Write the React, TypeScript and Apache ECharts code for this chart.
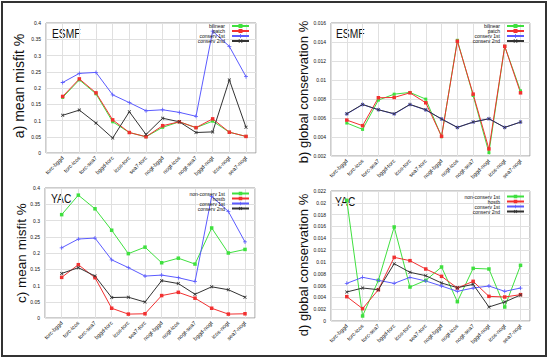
import React, { useEffect, useRef } from 'react';
import * as echarts from 'echarts';

const categories = ['torc-bggd', 'torc-icos', 'torc-sea7', 'bggd-torc', 'icos-torc', 'sea7-torc', 'nogt-bggd', 'nogt-icos', 'nogt-sea7', 'bggd-nogt', 'icos-nogt', 'sea7-nogt'];

// a) ESMF mean misfit %
const aBilinear = [0.171, 0.225, 0.182, 0.096, 0.063, 0.050, 0.079, 0.096, 0.078, 0.098, 0.064, 0.051];
const aPatch = [0.174, 0.228, 0.185, 0.102, 0.063, 0.050, 0.084, 0.096, 0.078, 0.105, 0.064, 0.051];
const aConserv1 = [0.217, 0.245, 0.248, 0.179, 0.155, 0.130, 0.133, 0.125, 0.113, 0.375, 0.328, 0.235];
const aConserv2 = [0.116, 0.132, 0.092, 0.046, 0.127, 0.057, 0.107, 0.096, 0.063, 0.065, 0.225, 0.079];

// b) ESMF global conservation %
const bBilinear = [0.00547, 0.0048, 0.00788, 0.00851, 0.00869, 0.00799, 0.00403, 0.01418, 0.00837, 0.00235, 0.01355, 0.00886];
const bPatch = [0.00578, 0.00519, 0.00813, 0.00816, 0.00865, 0.0076, 0.00407, 0.01408, 0.00851, 0.00274, 0.01355, 0.00865];
const bConserv1 = [0.00642, 0.00741, 0.00687, 0.00642, 0.00741, 0.00684, 0.0059, 0.00501, 0.00557, 0.00592, 0.00501, 0.00557];
const bConserv2 = [0.00645, 0.00743, 0.00687, 0.00645, 0.00743, 0.00687, 0.00589, 0.00501, 0.00557, 0.00592, 0.00501, 0.00557];

// c) YAC mean misfit %
const cNonConserv1 = [0.318, 0.378, 0.336, 0.270, 0.198, 0.218, 0.170, 0.184, 0.166, 0.277, 0.200, 0.211];
const cHostb = [0.125, 0.164, 0.124, 0.030, 0.012, 0.013, 0.069, 0.079, 0.061, 0.030, 0.012, 0.013];
const cConserv1 = [0.216, 0.243, 0.246, 0.179, 0.155, 0.129, 0.132, 0.124, 0.112, 0.374, 0.328, 0.234];
const cConserv2 = [0.137, 0.155, 0.129, 0.063, 0.064, 0.049, 0.115, 0.106, 0.073, 0.096, 0.087, 0.064];

// d) YAC global conservation %
const dNonConserv1 = [0.02042, 0.00085, 0.00688, 0.01591, 0.00575, 0.00688, 0.00914, 0.00327, 0.00891, 0.0088, 0.00237, 0.00942];
const dHostb = [0.00412, 0.00209, 0.0053, 0.01077, 0.01021, 0.0088, 0.00756, 0.00558, 0.00671, 0.00417, 0.00406, 0.00446];
const dConserv1 = [0.00637, 0.00739, 0.00688, 0.00637, 0.00739, 0.00677, 0.00592, 0.00502, 0.00558, 0.00592, 0.00502, 0.00558];
const dConserv2 = [0.00491, 0.00558, 0.0053, 0.0097, 0.00824, 0.00767, 0.00643, 0.00564, 0.0062, 0.00237, 0.00322, 0.0044];

const GREEN = '#3fe03f';
const RED = '#f23030';
const BLUE = '#5b5bff';
const BLACK = '#333333';
const FONT = 'Liberation Sans, Arial, sans-serif';

const PLUS = 'path://M4 0H6V4H10V6H6V10H4V6H0V4H4Z';
const CROSS = 'path://M0 1.5L1.5 0L5 3.5L8.5 0L10 1.5L6.5 5L10 8.5L8.5 10L5 6.5L1.5 10L0 8.5L3.5 5Z';

const styles: Record<string, { color: string; symbol: string; size: number }> = {
  bilinear: { color: GREEN, symbol: 'rect', size: 3 },
  patch: { color: RED, symbol: 'rect', size: 3.5 },
  'non-conserv 1st': { color: GREEN, symbol: 'rect', size: 3.5 },
  hostb: { color: RED, symbol: 'rect', size: 3.5 },
  'conserv 1st': { color: BLUE, symbol: PLUS, size: 4 },
  'conserv 2nd': { color: BLACK, symbol: CROSS, size: 3.5 },
};

const grids = [
  { left: 46, top: 23, width: 210, height: 130 },
  { left: 331, top: 23, width: 199, height: 133 },
  { left: 45, top: 188, width: 210, height: 130 },
  { left: 331, top: 191, width: 199, height: 130 },
];

const yRanges = [
  { min: 0, max: 0.4, interval: 0.05 },
  { min: 0.002, max: 0.016, interval: 0.002 },
  { min: 0, max: 0.4, interval: 0.05 },
  { min: 0, max: 0.022, interval: 0.002 },
];

const panels: { name: string; values: number[] }[][] = [
  [
    { name: 'bilinear', values: aBilinear },
    { name: 'patch', values: aPatch },
    { name: 'conserv 1st', values: aConserv1 },
    { name: 'conserv 2nd', values: aConserv2 },
  ],
  [
    { name: 'bilinear', values: bBilinear },
    { name: 'patch', values: bPatch },
    { name: 'conserv 1st', values: bConserv1 },
    { name: 'conserv 2nd', values: bConserv2 },
  ],
  [
    { name: 'non-conserv 1st', values: cNonConserv1 },
    { name: 'hostb', values: cHostb },
    { name: 'conserv 1st', values: cConserv1 },
    { name: 'conserv 2nd', values: cConserv2 },
  ],
  [
    { name: 'non-conserv 1st', values: dNonConserv1 },
    { name: 'hostb', values: dHostb },
    { name: 'conserv 1st', values: dConserv1 },
    { name: 'conserv 2nd', values: dConserv2 },
  ],
];

const legendPos = [
  { right: 300, top: 23.5, gap: 0, lh: 5 },
  { right: 25, top: 23.5, gap: 0, lh: 5 },
  { right: 300, top: 191, gap: 0, lh: 4.4 },
  { right: 25, top: 194, gap: 0, lh: 4.4 },
];

const yNames = [
  { text: 'a) mean misfit %', x: 19, y: 86, size: 14 },
  { text: 'b) global conservation %', x: 303, y: 92, size: 13 },
  { text: 'c) mean misfit %', x: 21, y: 253, size: 13.5 },
  { text: 'd) global conservation %', x: 303, y: 265, size: 13 },
];

const titles = [
  { text: 'ESMF', x: 52, y: 27 },
  { text: 'ESMF', x: 336, y: 27 },
  { text: 'YAC', x: 51, y: 192 },
  { text: 'YAC', x: 335, y: 195 },
];

export default function App() {
  const ref = useRef<HTMLDivElement>(null);
  useEffect(() => {
    if (!ref.current) return;
    const chart = echarts.init(ref.current, undefined, { renderer: 'svg' });
    const fmtY = (v: number) => String(parseFloat(v.toFixed(4)));
    const series: any[] = [];
    panels.forEach((p, gi) => {
      p.forEach((s) => {
        const st = styles[s.name];
        series.push({
          type: 'line',
          name: s.name,
          xAxisIndex: gi,
          yAxisIndex: gi,
          data: s.values.map((v, i) => [i + 1, v]),
          symbol: st.symbol,
          symbolSize: st.size,
          showSymbol: true,
          lineStyle: { color: st.color, width: 1 },
          itemStyle: { color: st.color },
          emphasis: { disabled: true },
        });
      });
    });
    chart.setOption({
      animation: false,
      grid: grids.map((g) => ({ ...g, show: true, borderColor: '#9a9a9a', borderWidth: 1, containLabel: false })),
      xAxis: grids.map((_, gi) => ({
        type: 'value',
        gridIndex: gi,
        min: 0,
        max: 12.6,
        interval: 1,
        axisLine: { show: false },
        axisTick: { show: false },
        splitLine: { show: true, lineStyle: { color: '#e0e0e0', width: 1 } },
        axisLabel: {
          rotate: 45,
          fontSize: 5.5,
          color: '#111',
          fontFamily: FONT,
          margin: 4,
          showMaxLabel: false,
          formatter: (v: number) => (Number.isInteger(v) && v >= 1 && v <= 12 ? categories[v - 1] : ''),
        },
      })),
      yAxis: yRanges.map((r, gi) => ({
        type: 'value',
        gridIndex: gi,
        min: r.min,
        max: r.max,
        interval: r.interval,
        axisLine: { show: false },
        axisTick: { show: false },
        splitLine: { show: true, lineStyle: { color: '#e0e0e0', width: 1 } },
        axisLabel: { fontSize: 5, color: '#111', fontFamily: FONT, margin: 5, formatter: fmtY },
      })),
      legend: panels.map((p, gi) => ({
        data: p.map((s) => s.name),
        orient: 'vertical',
        align: 'right',
        right: legendPos[gi].right,
        top: legendPos[gi].top,
        itemWidth: 17,
        itemHeight: legendPos[gi].lh,
        itemGap: legendPos[gi].gap,
        padding: 0,
        selectedMode: false,
        textStyle: { fontSize: 5, color: '#111', fontFamily: FONT, lineHeight: legendPos[gi].lh, padding: [0, 2, 0, 0] },
      })),
      series,
      graphic: [
        {
          type: 'rect',
          shape: { x: 2, y: 2, width: 544, height: 354 },
          style: { fill: 'none', stroke: '#333', lineWidth: 2 },
          silent: true,
        },
        ...yNames.map((n) => ({
          type: 'text',
          x: n.x,
          y: n.y,
          rotation: Math.PI / 2,
          style: { text: n.text, fontSize: n.size, fontFamily: FONT, fill: '#111', textAlign: 'center', textVerticalAlign: 'middle' },
          silent: true,
        })),
        ...titles.map((t) => ({
          type: 'text',
          x: t.x,
          y: t.y,
          scaleX: 0.82,
          style: { text: t.text, fontSize: 12.5, fontFamily: FONT, fill: '#111', textAlign: 'left', textVerticalAlign: 'top' },
          silent: true,
        })),
      ],
    });
    return () => chart.dispose();
  }, []);
  return <div ref={ref} style={{ position: 'absolute', left: 0, top: 0, width: 550, height: 362 }} />;
}
